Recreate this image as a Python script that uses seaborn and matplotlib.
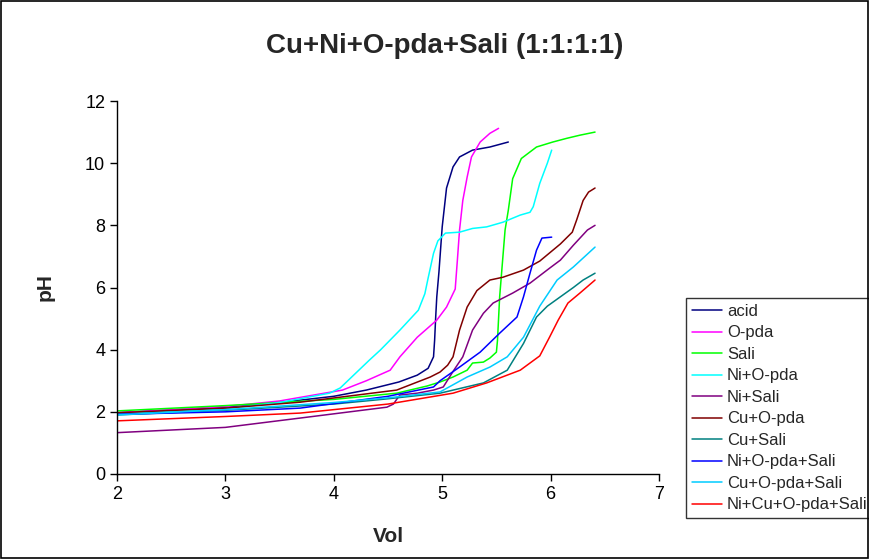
import matplotlib
matplotlib.use("Agg")
import matplotlib.pyplot as plt
import seaborn as sns
import pandas as pd
from matplotlib.patches import Rectangle

# ── Titration data (Vol vs pH) ───────────────────────────
acid_x = [2.0, 3.0, 3.5, 4.0, 4.3, 4.6, 4.77, 4.87, 4.92, 4.93, 4.94, 4.95, 4.97, 5.0, 5.04, 5.1, 5.16, 5.28, 5.44, 5.61]
acid_y = [1.97, 2.15, 2.3, 2.5, 2.7, 2.96, 3.18, 3.4, 3.77, 4.3, 5.05, 5.7, 6.5, 7.95, 9.2, 9.88, 10.2, 10.42, 10.52, 10.68]

opda_x = [2.0, 3.0, 3.5, 4.08, 4.3, 4.52, 4.61, 4.77, 4.95, 5.04, 5.12, 5.14, 5.16, 5.19, 5.23, 5.27, 5.35, 5.44, 5.52]
opda_y = [1.97, 2.17, 2.35, 2.7, 3.0, 3.34, 3.77, 4.4, 4.95, 5.37, 5.95, 6.88, 7.85, 8.8, 9.55, 10.2, 10.68, 10.96, 11.12]

sali_x = [2.0, 3.0, 4.0, 4.58, 4.86, 4.98, 5.1, 5.23, 5.28, 5.38, 5.44, 5.5, 5.51, 5.53, 5.55, 5.58, 5.61, 5.65, 5.73, 5.87, 6.02, 6.15, 6.27, 6.41]
sali_y = [2.03, 2.2, 2.4, 2.6, 2.83, 2.96, 3.12, 3.34, 3.57, 3.6, 3.73, 3.92, 4.3, 5.7, 6.56, 7.85, 8.49, 9.5, 10.15, 10.52, 10.68, 10.8, 10.9, 11.0]

ni_opda_x = [2.0, 3.0, 3.5, 3.96, 4.06, 4.33, 4.43, 4.61, 4.78, 4.84, 4.87, 4.92, 4.96, 5.03, 5.16, 5.28, 5.41, 5.56, 5.72, 5.81, 5.84, 5.9, 5.97, 6.01]
ni_opda_y = [1.93, 2.1, 2.3, 2.6, 2.77, 3.67, 3.99, 4.63, 5.27, 5.8, 6.3, 7.1, 7.5, 7.75, 7.78, 7.9, 7.95, 8.1, 8.33, 8.42, 8.6, 9.35, 10.0, 10.42]

ni_sali_x = [2.0, 3.0, 3.69, 4.49, 4.55, 4.59, 4.61, 4.77, 4.92, 5.01, 5.1, 5.19, 5.28, 5.38, 5.47, 5.65, 5.81, 5.99, 6.09, 6.21, 6.34, 6.41]
ni_sali_y = [1.33, 1.5, 1.8, 2.15, 2.25, 2.45, 2.54, 2.6, 2.7, 2.8, 3.3, 3.77, 4.63, 5.17, 5.5, 5.82, 6.14, 6.62, 6.88, 7.36, 7.85, 8.0]

cu_opda_x = [2.0, 3.0, 3.69, 4.58, 4.89, 4.98, 5.05, 5.1, 5.16, 5.23, 5.32, 5.44, 5.56, 5.75, 5.9, 6.09, 6.2, 6.24, 6.3, 6.35, 6.41]
cu_opda_y = [1.97, 2.12, 2.31, 2.7, 3.12, 3.28, 3.5, 3.77, 4.63, 5.37, 5.9, 6.24, 6.33, 6.56, 6.85, 7.4, 7.78, 8.17, 8.8, 9.07, 9.2]

cu_sali_x = [2.0, 3.0, 4.0, 4.5, 4.98, 5.38, 5.6, 5.75, 5.87, 5.97, 6.09, 6.21, 6.3, 6.41]
cu_sali_y = [1.9, 2.05, 2.25, 2.42, 2.6, 2.93, 3.34, 4.2, 5.05, 5.4, 5.7, 6.0, 6.24, 6.46]

ni_opda_sali_x = [2.0, 3.0, 3.69, 4.5, 4.92, 4.98, 5.16, 5.35, 5.53, 5.69, 5.75, 5.81, 5.87, 5.92, 6.01]
ni_opda_sali_y = [1.92, 2.0, 2.12, 2.5, 2.8, 3.0, 3.44, 3.92, 4.53, 5.05, 5.7, 6.46, 7.2, 7.59, 7.62]

cu_opda_sali_x = [2.0, 3.0, 4.0, 4.5, 4.98, 5.23, 5.44, 5.6, 5.75, 5.9, 6.06, 6.21, 6.41]
cu_opda_sali_y = [1.9, 2.07, 2.3, 2.45, 2.64, 3.12, 3.44, 3.77, 4.4, 5.4, 6.24, 6.66, 7.3]

all_x = [2.0, 3.0, 3.69, 4.5, 5.1, 5.41, 5.72, 5.9, 5.99, 6.07, 6.16, 6.27, 6.41]
all_y = [1.71, 1.85, 1.96, 2.25, 2.6, 2.93, 3.34, 3.8, 4.4, 4.95, 5.5, 5.82, 6.24]

series = [
    ("acid", acid_x, acid_y, "#000080"),
    ("O-pda", opda_x, opda_y, "#FF00FF"),
    ("Sali", sali_x, sali_y, "#00FF00"),
    ("Ni+O-pda", ni_opda_x, ni_opda_y, "#00FFFF"),
    ("Ni+Sali", ni_sali_x, ni_sali_y, "#800080"),
    ("Cu+O-pda", cu_opda_x, cu_opda_y, "#800000"),
    ("Cu+Sali", cu_sali_x, cu_sali_y, "#008080"),
    ("Ni+O-pda+Sali", ni_opda_sali_x, ni_opda_sali_y, "#0000FF"),
    ("Cu+O-pda+Sali", cu_opda_sali_x, cu_opda_sali_y, "#00CCFF"),
    ("Ni+Cu+O-pda+Sali", all_x, all_y, "#FF0000"),
]

# long-form table, one row per point
rows = []
for name, xs, ys, _ in series:
    for xv, yv in zip(xs, ys):
        rows.append({"Vol": xv, "pH": yv, "sample": name})
df = pd.DataFrame(rows)
palette = {name: c for name, _, _, c in series}
hue_order = [s[0] for s in series]

sns.set_style("white")
plt.rcParams["font.family"] = ["Liberation Sans", "DejaVu Sans"]

fig = plt.figure(figsize=(8.7, 5.59), dpi=100)
ax = fig.add_axes([117 / 870, 85 / 559, 542 / 870, 373 / 559])

# one call per curve keeps the point order (no sorting by x)
for name in hue_order:
    sub = df[df["sample"] == name]
    sns.lineplot(x=sub["Vol"].values, y=sub["pH"].values, sort=False,
                 color=palette[name], linewidth=1.1, ax=ax, label=name)

ax.set_xlim(2, 7)
ax.set_ylim(0, 12)
ax.set_xticks(range(2, 8))
ax.set_yticks(range(0, 13, 2))
ax.tick_params(axis="both", direction="out", length=5, width=1, labelsize=13,
               colors="black", left=True, bottom=True)
for side in ["top", "right"]:
    ax.spines[side].set_visible(False)
for side in ["left", "bottom"]:
    ax.spines[side].set_color("black")
    ax.spines[side].set_linewidth(1)

ax.set_xlabel("Vol", fontsize=15, fontweight="bold")
ax.set_ylabel("pH", fontsize=15, fontweight="bold")
ax.xaxis.set_label_coords(0.5, -0.143)
ax.yaxis.set_label_coords(-0.115, 0.5)

fig.text(445 / 870, 1 - 46 / 559, "Cu+Ni+O-pda+Sali (1:1:1:1)",
         ha="center", va="center", fontsize=20, fontweight="bold")

leg = ax.legend(loc="upper left", bbox_to_anchor=(686 / 870, 1 - 298 / 559),
                bbox_transform=fig.transFigure, frameon=True, fancybox=False,
                fontsize=12, handlelength=1.8, handletextpad=0.3, borderaxespad=0,
                labelspacing=0.39, borderpad=0.35)
leg.get_frame().set_edgecolor("black")
leg.get_frame().set_linewidth(1)

fig.patches.append(Rectangle((0.001, 0.002), 0.997, 0.996, transform=fig.transFigure,
                             fill=False, edgecolor="black", linewidth=1.2))

fig.savefig("out.png", dpi=100)
